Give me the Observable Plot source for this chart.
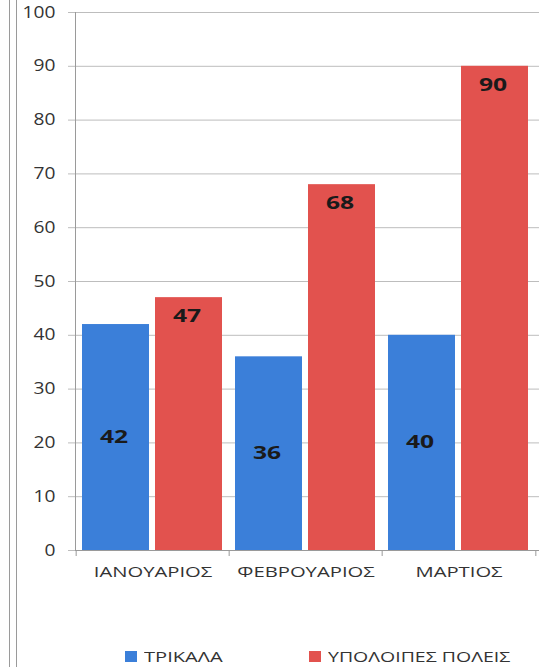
<!DOCTYPE html>
<html>
<head>
<meta charset="utf-8">
<script src="https://cdn.jsdelivr.net/npm/d3@7"></script>
<script src="https://cdn.jsdelivr.net/npm/@observablehq/plot@0.6"></script>
<style>
  html, body { margin: 0; padding: 0; background: #fff; }
  body { width: 539px; height: 667px; position: relative; overflow: hidden; font-family: "Open Sans", sans-serif; }
  .border { position: absolute; top: 0; bottom: 0; width: 1px; background: #9a9a9a; }
  #chart { position: absolute; left: 0; top: 0; }
  #legend { position: absolute; top: 646px; left: 0; width: 539px; height: 20px; font-size: 15px; color: #333; }
  .item { position: absolute; top: 0; display: flex; align-items: center; white-space: nowrap; }
  .sw { width: 12px; height: 11px; margin-right: 7px; flex: none; }
  .lt { display: inline-block; transform-origin: left center; }
</style>
</head>
<body>
<div class="border" style="left:9px"></div>
<div class="border" style="left:16px"></div>
<div id="chart"></div>
<div id="legend"></div>
<script>
const months = ["ΙΑΝΟΥΑΡΙΟΣ", "ΦΕΒΡΟΥΑΡΙΟΣ", "ΜΑΡΤΙΟΣ"];
const seriesNames = ["ΤΡΙΚΑΛΑ", "ΥΠΟΛΟΙΠΕΣ ΠΟΛΕΙΣ"];
const trikala = [42, 36, 40];
const others = [47, 68, 90];
const yTicks = [0, 10, 20, 30, 40, 50, 60, 70, 80, 90, 100];
const colors = ["#3b7fd9", "#e2524e"];

const blueData = months.map((m, i) => ({month: m, value: trikala[i]}));
const redData = months.map((m, i) => ({month: m, value: others[i]}));

const W = 539, H = 610, mL = 75, mR = 3;
const half = (W - mL - mR) / months.length / 2;

const chart = Plot.plot({
  width: W,
  height: H,
  marginLeft: mL,
  marginRight: mR,
  marginTop: 12,
  marginBottom: 60,
  style: {fontFamily: "Open Sans, sans-serif", color: "#333", background: "transparent", overflow: "visible"},
  x: {domain: months, padding: 0, label: null},
  y: {domain: [0, 100], label: null},
  marks: [
    Plot.gridY(yTicks, {stroke: "#bdbdbd", strokeOpacity: 1, insetLeft: -7, insetRight: -3}),
    Plot.axisY(yTicks, {tickSize: 0, tickPadding: 20, fontSize: 16, fill: "#333", label: null}),
    Plot.frame({anchor: "left", stroke: "#9a9a9a"}),
    Plot.barY(blueData, {x: "month", y: "value", fill: colors[0], insetLeft: 6, insetRight: 80}),
    Plot.barY(redData, {x: "month", y: "value", fill: colors[1], insetLeft: 79, insetRight: 7}),
    Plot.ruleY([0], {stroke: "#9a9a9a", insetRight: -3}),
    Plot.axisX({tickSize: 0, tickPadding: 16, fontSize: 15, fill: "#333", label: null}),
    Plot.axisX(months, {tickSize: 6, text: null, dx: -half, stroke: "#9a9a9a", label: null}),
    Plot.axisX([months[months.length - 1]], {tickSize: 6, text: null, dx: half, stroke: "#9a9a9a", label: null}),
    Plot.text(blueData, {x: "month", y: d => d.value / 2, text: d => String(d.value), dx: -39, fontSize: 17, fontWeight: "bold", fill: "#1a1a1a"}),
    Plot.text(redData, {x: "month", y: "value", text: d => String(d.value), dx: 34, dy: 19, fontSize: 17, fontWeight: "bold", fill: "#1a1a1a"})
  ]
});
document.getElementById("chart").appendChild(chart);

// horizontal glyph stretch to match the reference's wide lettering
function stretch(selector, s) {
  chart.querySelectorAll(selector).forEach(t => {
    let tr = t.getAttribute("transform");
    if (!tr) {
      const x = +(t.getAttribute("x") || 0), y = +(t.getAttribute("y") || 0);
      t.removeAttribute("x"); t.removeAttribute("y");
      tr = `translate(${x},${y})`;
    }
    t.setAttribute("transform", `${tr} scale(${s},1)`);
  });
}
stretch('g[aria-label="y-axis tick label"] text', 1.2);
stretch('g[aria-label="x-axis tick label"] text', 1.35);
stretch('g[aria-label="text"] text', 1.45);

const legend = document.getElementById("legend");
const lx = [125, 309];
const ls = [1.34, 1.3];
seriesNames.forEach((name, i) => {
  const it = document.createElement("div");
  it.className = "item";
  it.style.left = lx[i] + "px";
  const sw = document.createElement("span");
  sw.className = "sw";
  sw.style.background = colors[i];
  const tx = document.createElement("span");
  tx.className = "lt";
  tx.style.transform = `scaleX(${ls[i]})`;
  tx.textContent = name;
  it.appendChild(sw);
  it.appendChild(tx);
  legend.appendChild(it);
});
</script>
</body>
</html>
